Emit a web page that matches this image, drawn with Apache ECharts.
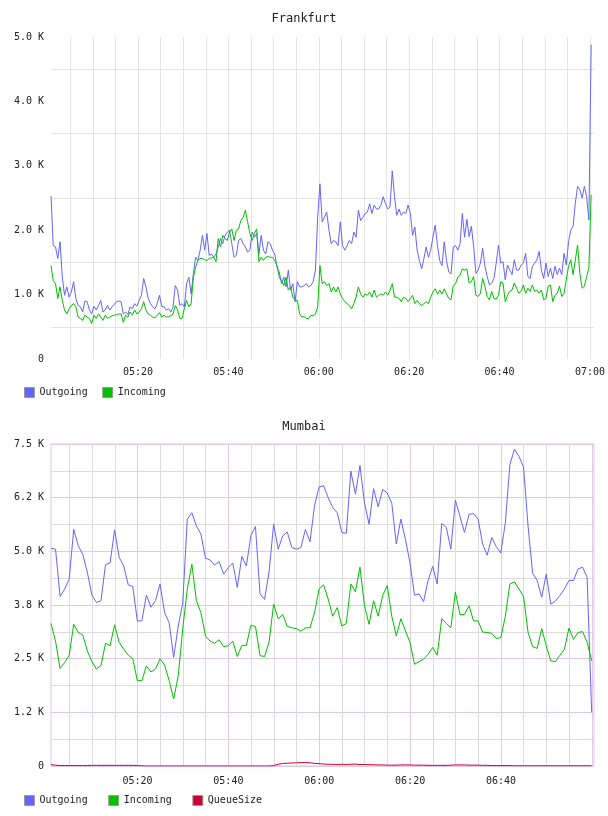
<!DOCTYPE html>
<html>
<head>
<meta charset="utf-8">
<title>Frankfurt / Mumbai</title>
<script src="https://cdn.jsdelivr.net/npm/echarts@6/dist/echarts.min.js"></script>
<style>
html, body { margin: 0; padding: 0; background: #fff; }
#main { width: 608px; height: 816px; }
</style>
</head>
<body>
<div id="main"></div>
<script>
// x values are minutes after 05:00
var fraStart = 0.75, fraStep = 0.5;   // Frankfurt: one sample every 30 s
var mumStart = 0.96, mumStep = 1;     // Mumbai: one sample every minute

var fraOutgoing = [
  2530,1760,1740,1560,1820,1270,990,1120,960,1040,
  1200,940,830,810,730,900,890,760,700,820,
  760,830,910,730,760,830,760,810,850,890,
  900,890,700,730,690,810,780,860,820,910,
  990,1250,1120,940,860,810,780,860,990,820,
  810,760,780,730,810,1140,1070,830,860,810,
  1170,1270,1010,1330,1580,1530,1690,1920,1690,1950,
  1610,1630,1580,1630,1740,1870,1790,1920,1970,2000,
  1790,1580,1610,1840,1870,1790,1740,1660,1690,1970,
  1890,1950,1630,1920,1690,1630,1820,1790,1690,1630,
  1430,1350,1170,1270,1120,1380,1070,1170,890,1200,
  1120,1120,1140,1170,1120,1140,1200,1380,2200,2720,
  2130,2200,2280,2000,1790,1840,1820,1760,2130,1760,
  1690,1760,1840,1790,1970,1890,2310,2150,2200,2260,
  2280,2410,2260,2390,2330,2330,2390,2520,2410,2330,
  2360,2920,2520,2230,2330,2230,2280,2260,2390,2260,
  1920,2050,1690,1530,1400,1560,1740,1580,1690,1890,
  2080,1760,1530,1450,1820,1530,1350,1320,1740,1760,
  1690,1790,2260,1890,2170,1900,2060,1750,1330,1380,
  1490,1720,1440,1280,1150,1180,1250,1490,1770,1490,
  1510,1230,1460,1380,1310,1540,1380,1380,1460,1490,
  1640,1280,1250,1440,1490,1540,1670,1380,1250,1490,
  1280,1410,1250,1440,1310,1410,1310,1640,1460,1820,
  2000,2060,2420,2680,2630,2500,2680,2520,2160,4880
];
var fraIncoming = [
  1450,1220,1170,940,1120,910,760,700,780,830,
  860,810,650,630,600,680,650,630,550,680,
  630,700,650,600,680,630,650,670,680,690,
  700,700,570,680,650,730,680,760,700,730,
  780,890,760,700,680,650,640,680,720,650,
  680,650,660,670,700,830,760,630,630,780,
  910,810,860,1270,1430,1530,1560,1560,1540,1530,
  1560,1570,1580,1510,1870,1740,1920,1870,1840,1970,
  2020,1840,2000,2020,2150,2200,2310,2130,1950,1840,
  1950,2020,1510,1580,1530,1580,1590,1580,1580,1530,
  1450,1270,1220,1140,1270,1070,1120,960,910,910,
  700,650,660,630,630,680,670,700,810,1450,
  1170,1200,1140,1170,1040,1120,1040,1120,1010,940,
  890,860,830,780,860,960,1120,1010,960,1010,
  990,1040,960,1070,960,990,1010,990,1040,990,
  1070,1170,960,960,940,890,960,940,890,940,
  990,860,910,860,830,860,890,860,960,1040,
  1090,1010,1070,1010,1090,1010,940,920,1140,1170,
  1270,1300,1400,1380,1400,1180,1200,1280,990,970,
  1020,1250,1130,970,920,1050,940,930,990,1200,
  1180,890,990,1050,1070,1180,1100,1020,1050,1150,
  1020,1100,1050,1150,1050,1070,1020,1070,920,940,
  1130,1150,890,990,1020,1130,970,1020,1230,1440,
  1540,1310,1540,1770,1330,1100,1130,1280,1410,2550
];

var mumOutgoing = [
  5070,5050,3950,4120,4350,5510,5130,4930,4510,3980,
  3810,3850,4690,4730,5500,4860,4660,4220,4180,3380,
  3380,3980,3700,3850,4240,3570,3340,2530,3260,3800,
  5750,5900,5590,5400,4840,4800,4680,4760,4470,4620,
  4730,4160,4880,4660,5370,5580,4010,3880,4520,5630,
  5050,5360,5450,5090,5050,5090,5510,5220,6060,6500,
  6530,6250,6020,5900,5440,5420,6870,6330,7000,6130,
  5630,6460,6040,6440,6360,6120,5170,5750,5280,4740,
  3980,4010,3830,4320,4650,4240,5650,5560,5050,6190,
  5820,5440,5860,5880,5750,5170,4910,5320,5110,4960,
  5670,7020,7380,7210,6970,5590,4490,4320,3930,4470,
  3770,3840,3970,4120,4320,4320,4590,4630,4390,1250
];
var mumIncoming = [
  3320,2910,2270,2410,2580,3300,3110,3050,2680,2430,
  2260,2340,2860,2800,3290,2880,2720,2580,2500,1990,
  1990,2330,2190,2260,2500,2350,1990,1560,2100,3200,
  4120,4700,3850,3570,3030,2910,2860,2940,2780,2800,
  2910,2550,2810,2810,3280,3250,2570,2550,2890,3770,
  3430,3530,3250,3220,3200,3140,3220,3220,3570,4120,
  4220,3890,3490,3690,3260,3320,4240,4060,4630,3730,
  3300,3850,3490,3970,4200,3490,3030,3430,3150,2880,
  2370,2430,2490,2600,2760,2580,3430,3320,3220,4050,
  3530,3530,3730,3380,3380,3120,3110,3090,2970,2990,
  3490,4240,4290,4120,3950,3110,2780,2740,3200,2800,
  2450,2430,2580,2720,3210,2950,3110,3130,2880,2450
];
var mumQueueSize = [
  30,20,10,10,10,10,10,10,10,15,
  15,15,15,15,15,15,15,15,15,10,
  5,0,0,0,0,0,0,0,0,0,
  0,0,0,0,0,0,0,0,0,0,
  0,0,0,0,0,0,0,0,0,10,
  40,60,65,70,75,80,80,75,60,55,
  45,40,40,35,40,35,40,45,35,35,
  30,30,25,25,20,20,20,25,25,25,
  20,20,20,15,15,15,15,15,20,25,
  25,25,20,20,20,15,15,10,10,10,
  10,10,5,5,5,5,5,5,5,5,
  5,5,5,5,5,5,5,5,5,5
];

var xTickValues = [20, 40, 60, 80, 100, 120];
var xTickLabels = ['05:20', '05:40', '06:00', '06:20', '06:40', '07:00'];
var fraYLabels = ['0', '1.0 K', '2.0 K', '3.0 K', '4.0 K', '5.0 K'];
var mumYLabels = ['0', '1.2 K', '2.5 K', '3.8 K', '5.0 K', '6.2 K', '7.5 K'];

var FONT = 'DejaVu Sans Mono';
var BLUE = '#6464ff', GREEN = '#00c000', RED = '#cc0033';
var GRAY = '#e4e4e4', PINK = '#e3c8e3', MGRAY = '#dcdcdc';

function pairs(values, start, step) {
  return values.map(function (v, i) { return [start + i * step, v]; });
}

// plot box
var LEFT = 51, RIGHT = 14, WIDTH = 608 - LEFT - RIGHT;
var fraMax = 120.88, mumMax = 120.47;
var fraBgLeft = LEFT - fraStart * WIDTH / (fraMax - fraStart);
var mumBgLeft = LEFT - mumStart * WIDTH / (mumMax - mumStart);

function xLabel(skipLast) {
  return function (v) {
    var i = xTickValues.indexOf(Math.round(v * 100) / 100);
    if (i < 0 || (skipLast && i === xTickValues.length - 1)) return '';
    return xTickLabels[i];
  };
}

var labelStyle = { fontFamily: FONT, fontSize: 10, color: '#222' };
var hiddenY = { type: 'value', min: 0, max: 1, show: false };
var noLine = { show: false };

var chart = echarts.init(document.getElementById('main'));
chart.setOption({
  animation: false,
  backgroundColor: '#fff',
  textStyle: { fontFamily: FONT },
  title: [
    { text: 'Frankfurt', left: 'center', top: 13, padding: 0,
      textStyle: { fontFamily: FONT, fontSize: 12, fontWeight: 'normal', color: '#222' } },
    { text: 'Mumbai', left: 'center', top: 421, padding: 0,
      textStyle: { fontFamily: FONT, fontSize: 12, fontWeight: 'normal', color: '#222' } }
  ],
  legend: [
    { data: ['Outgoing', 'Incoming'], left: 24, top: 387, padding: 0,
      icon: 'rect', itemWidth: 10, itemHeight: 10, itemGap: 14.5,
      itemStyle: { borderColor: '#999', borderWidth: 1 },
      textStyle: labelStyle },
    { data: ['Outgoing', 'Incoming', 'QueueSize'], left: 24, top: 795, padding: 0,
      icon: 'rect', itemWidth: 10, itemHeight: 10, itemGap: 20.5,
      itemStyle: { borderColor: '#999', borderWidth: 1 },
      textStyle: labelStyle }
  ],
  grid: [
    { left: LEFT, right: RIGHT, top: 37, bottom: 457 },
    { left: fraBgLeft, right: RIGHT, top: 37, bottom: 457 },
    { left: LEFT, right: RIGHT, top: 444, bottom: 50, show: true,
      borderColor: PINK, borderWidth: 1, backgroundColor: 'transparent', z: 3 },
    { left: mumBgLeft, right: RIGHT, top: 444, bottom: 50 }
  ],
  xAxis: [
    { gridIndex: 0, type: 'value', min: fraStart, max: fraMax, show: false },
    // Frankfurt: gray line every 5 minutes, labels every 20
    { gridIndex: 1, type: 'value', min: 0, max: fraMax, interval: 5,
      axisLine: noLine, axisTick: noLine,
      axisLabel: Object.assign({ margin: 8, formatter: xLabel(false) }, labelStyle),
      splitLine: { show: true, showMinLine: false, showMaxLine: false,
        lineStyle: { color: GRAY, width: 1 } } },
    { gridIndex: 2, type: 'value', min: mumStart, max: mumMax, show: false },
    // Mumbai: gray line every 5 minutes
    { gridIndex: 3, type: 'value', min: 0, max: mumMax, interval: 5,
      axisLine: noLine, axisTick: noLine,
      axisLabel: Object.assign({ margin: 10, formatter: xLabel(true) }, labelStyle),
      splitLine: { show: true, showMinLine: false, showMaxLine: false,
        lineStyle: { color: MGRAY, width: 1 } } },
    // Mumbai: pink line every 20 minutes
    { gridIndex: 3, type: 'value', position: 'top', min: 0, max: mumMax, interval: 20,
      axisLine: noLine, axisTick: noLine, axisLabel: noLine,
      splitLine: { show: true, showMinLine: false, showMaxLine: false,
        lineStyle: { color: PINK, width: 1 } } }
  ],
  yAxis: [
    { gridIndex: 0, type: 'value', min: 0, max: 5000, interval: 500,
      axisLine: noLine, axisTick: noLine,
      axisLabel: Object.assign({ margin: 7, formatter: function (v) {
        return v % 1000 === 0 ? fraYLabels[v / 1000] : '';
      } }, labelStyle),
      splitLine: { show: true, lineStyle: { color: ['transparent', GRAY], width: 1 } } },
    Object.assign({ gridIndex: 1 }, hiddenY),
    { gridIndex: 2, type: 'value', min: 0, max: 7500, interval: 625,
      axisLine: noLine, axisTick: noLine,
      axisLabel: Object.assign({ margin: 7, formatter: function (v) {
        return v % 1250 === 0 ? mumYLabels[v / 1250] : '';
      } }, labelStyle),
      splitLine: { show: true, lineStyle: { color: [PINK, MGRAY], width: 1 } } },
    Object.assign({ gridIndex: 3 }, hiddenY)
  ],
  series: [
    { name: 'Outgoing', type: 'line', xAxisIndex: 0, yAxisIndex: 0, showSymbol: false,
      color: BLUE, lineStyle: { width: 1, color: BLUE }, data: pairs(fraOutgoing, fraStart, fraStep) },
    { name: 'Incoming', type: 'line', xAxisIndex: 0, yAxisIndex: 0, showSymbol: false,
      color: GREEN, lineStyle: { width: 1, color: GREEN }, data: pairs(fraIncoming, fraStart, fraStep) },
    { name: 'Outgoing', type: 'line', xAxisIndex: 2, yAxisIndex: 2, showSymbol: false, z: 4,
      color: BLUE, lineStyle: { width: 1, color: BLUE }, data: pairs(mumOutgoing, mumStart, mumStep) },
    { name: 'Incoming', type: 'line', xAxisIndex: 2, yAxisIndex: 2, showSymbol: false, z: 4,
      color: GREEN, lineStyle: { width: 1, color: GREEN }, data: pairs(mumIncoming, mumStart, mumStep) },
    { name: 'QueueSize', type: 'line', xAxisIndex: 2, yAxisIndex: 2, showSymbol: false, z: 4,
      color: RED, lineStyle: { width: 1, color: RED }, data: pairs(mumQueueSize, mumStart, mumStep) }
  ]
});
</script>
</body>
</html>
